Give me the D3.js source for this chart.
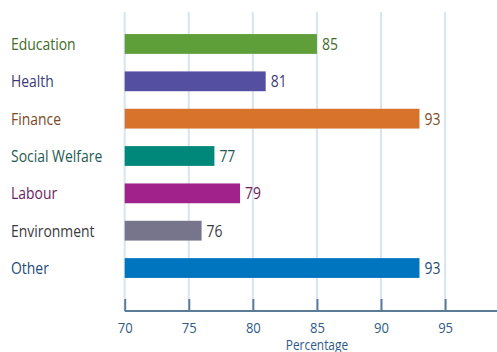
<!DOCTYPE html>
<html>
<head>
<meta charset="utf-8">
<script src="https://cdn.jsdelivr.net/npm/d3@7"></script>
<style>
  html, body { margin: 0; padding: 0; background: #fff; }
  svg { display: block; font-family: "Open Sans", "Noto Sans", sans-serif; }
</style>
</head>
<body>
<svg id="chart" width="497" height="352"></svg>
<script>
const categories = ["Education", "Health", "Finance", "Social Welfare", "Labour", "Environment", "Other"];
const values = [85, 81, 93, 77, 79, 76, 93];
const barColors = ["#5e9f3a", "#544fa0", "#d8732b", "#00897b", "#a2228b", "#77758c", "#0075bf"];
const textColors = ["#3f6a27", "#3c3a78", "#7b4a1f", "#1f5b52", "#6f1a5f", "#3a3a40", "#1e4a78"];
const tickValues = [70, 75, 80, 85, 90, 95];
const xDomain = [70, 99.05];
const axisTitle = "Percentage";

// the typeface is a narrow humanist sans: squeeze Open Sans horizontally
const labelSize = 17, labelSqueeze = 0.82;

const svg = d3.select("#chart");

const x = d3.scaleLinear().domain(xDomain).range([124.7, 497]);
const y = d3.scaleBand().domain(categories).range([25.3, 286.7])
  .paddingInner(0.47).paddingOuter(0.235);

const axisY = 311;

// vertical gridlines
svg.append("g").selectAll("line").data(tickValues).join("line")
  .attr("x1", d => x(d)).attr("x2", d => x(d))
  .attr("y1", 12).attr("y2", axisY)
  .attr("stroke", "#d6e4f3").attr("stroke-width", 2);

// bars
svg.append("g").selectAll("rect").data(categories).join("rect")
  .attr("x", x(xDomain[0]))
  .attr("y", d => y(d))
  .attr("width", (d, i) => x(values[i]) - x(xDomain[0]))
  .attr("height", y.bandwidth())
  .attr("fill", (d, i) => barColors[i]);

// value labels
svg.append("g").selectAll("text").data(categories).join("text")
  .attr("transform", (d, i) =>
    `translate(${x(values[i]) + 5},${y(d) + y.bandwidth() / 2}) scale(${labelSqueeze},1)`)
  .attr("dy", "0.36em")
  .attr("font-size", labelSize)
  .attr("fill", (d, i) => textColors[i])
  .text((d, i) => values[i]);

// category labels
svg.append("g").selectAll("text").data(categories).join("text")
  .attr("transform", d => `translate(11,${y(d) + y.bandwidth() / 2}) scale(${labelSqueeze},1)`)
  .attr("dy", "0.36em")
  .attr("font-size", labelSize)
  .attr("fill", (d, i) => textColors[i])
  .text(d => d);

// x axis
const axis = d3.axisBottom(x).tickValues(tickValues).tickSize(0).tickPadding(11.5);
const gx = svg.append("g").attr("transform", `translate(0,${axisY})`).call(axis);
gx.select(".domain").attr("stroke", "#5c7b98").attr("stroke-width", 2)
  .attr("d", `M${x(xDomain[0])},0H497`);
gx.selectAll(".tick line").remove();
gx.selectAll(".tick").append("line")
  .attr("y1", -12).attr("y2", 0)
  .attr("stroke", "#5c7b98").attr("stroke-width", 2);
gx.selectAll(".tick text")
  .attr("font-size", 14.5).attr("fill", "#2f5b88")
  .attr("transform", "scale(0.9,1)")
  .attr("font-family", "\"Open Sans\", \"Noto Sans\", sans-serif");

svg.append("text")
  .attr("transform", `translate(${x(85)},350) scale(0.85,1)`)
  .attr("text-anchor", "middle")
  .attr("font-size", 14)
  .attr("fill", "#2f5b88")
  .text(axisTitle);
</script>
</body>
</html>
